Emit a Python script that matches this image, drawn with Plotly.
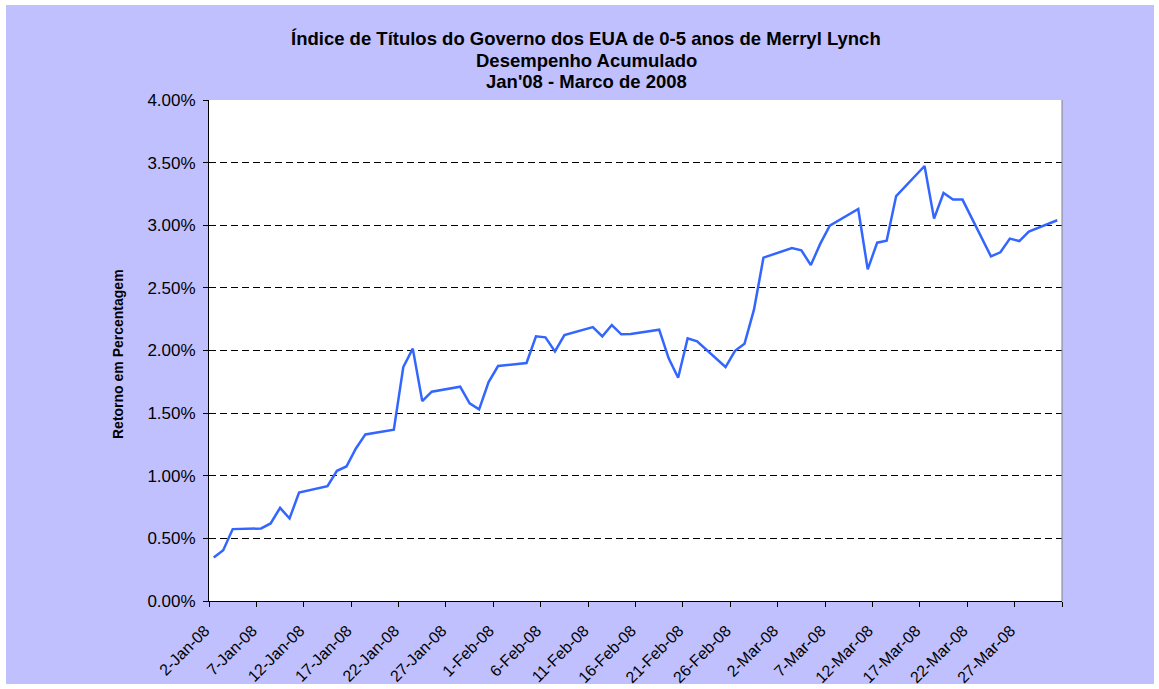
import plotly.graph_objects as go
import pandas as pd

dates = [
    "2008-01-02", "2008-01-03", "2008-01-04", "2008-01-07", "2008-01-08", "2008-01-09",
    "2008-01-10", "2008-01-11", "2008-01-14", "2008-01-15", "2008-01-16", "2008-01-17",
    "2008-01-18", "2008-01-21", "2008-01-22", "2008-01-23", "2008-01-24", "2008-01-25",
    "2008-01-28", "2008-01-29", "2008-01-30", "2008-01-31",
    "2008-02-01", "2008-02-04", "2008-02-05", "2008-02-06", "2008-02-07", "2008-02-08",
    "2008-02-11", "2008-02-12", "2008-02-13", "2008-02-14", "2008-02-15", "2008-02-18",
    "2008-02-19", "2008-02-20", "2008-02-21", "2008-02-22", "2008-02-25", "2008-02-26",
    "2008-02-27", "2008-02-28", "2008-02-29",
    "2008-03-03", "2008-03-04", "2008-03-05", "2008-03-06", "2008-03-07", "2008-03-10",
    "2008-03-11", "2008-03-12", "2008-03-13", "2008-03-14", "2008-03-17", "2008-03-18",
    "2008-03-19", "2008-03-20", "2008-03-21", "2008-03-24", "2008-03-25", "2008-03-26",
    "2008-03-27", "2008-03-28", "2008-03-31",
]

returns_pct = [
    0.347, 0.406, 0.574, 0.579, 0.619, 0.744,
    0.659, 0.866, 0.917, 1.040, 1.074, 1.218,
    1.330, 1.367, 1.868, 2.015, 1.596, 1.671,
    1.711, 1.578, 1.530, 1.748,
    1.876, 1.900, 2.113, 2.105, 1.993, 2.123,
    2.187, 2.113, 2.203, 2.129, 2.131, 2.166,
    1.937, 1.783, 2.097, 2.073, 1.868, 1.998,
    2.054, 2.326, 2.741,
    2.818, 2.800, 2.682, 2.853, 2.997, 3.130,
    2.648, 2.861, 2.877, 3.233, 3.473, 3.053,
    3.257, 3.205, 3.205, 2.752, 2.784, 2.893,
    2.874, 2.949, 3.040,
]

x_tick_labels = [
    "2-Jan-08", "7-Jan-08", "12-Jan-08", "17-Jan-08", "22-Jan-08", "27-Jan-08",
    "1-Feb-08", "6-Feb-08", "11-Feb-08", "16-Feb-08", "21-Feb-08", "26-Feb-08",
    "2-Mar-08", "7-Mar-08", "12-Mar-08", "17-Mar-08", "22-Mar-08", "27-Mar-08",
]
x_axis_end = "1-Apr-08"

y_tick_values = [0.0, 0.5, 1.0, 1.5, 2.0, 2.5, 3.0, 3.5, 4.0]
y_tick_labels = ["0.00%", "0.50%", "1.00%", "1.50%", "2.00%", "2.50%", "3.00%", "3.50%", "4.00%"]

title_lines = [
    "Índice de Títulos do Governo dos EUA de 0-5 anos de Merryl Lynch",
    "Desempenho Acumulado",
    "Jan'08 - Marco de 2008",
]
y_title = "Retorno em Percentagem"

# points sit in the middle of each day (Excel date axis, between tick marks)
x_points = pd.to_datetime(dates) + pd.Timedelta(hours=12)
tick_dates = pd.to_datetime(x_tick_labels + [x_axis_end], format="%d-%b-%y")
tick_text = x_tick_labels + [""]

W, H = 1159, 689
PLOT_L, PLOT_R, PLOT_T, PLOT_B = 209, 1062, 100, 601   # page pixels
pw, ph = PLOT_R - PLOT_L, PLOT_B - PLOT_T

def px_x(p):
    return (p - PLOT_L) / pw

def px_y(p):
    return (PLOT_B - p) / ph

FONT = "Liberation Sans, Arial, sans-serif"

fig = go.Figure()
fig.add_trace(go.Scatter(
    x=x_points, y=returns_pct, mode="lines",
    line=dict(color="#3366FF", width=2.5),
    hoverinfo="x+y", showlegend=False,
))

title_y_centers = [38, 60, 81]
annotations = [
    dict(text="<b>" + t + "</b>", xref="paper", yref="paper",
         x=px_x(586), y=px_y(yc), xanchor="center", yanchor="middle",
         showarrow=False, font=dict(size=18.5, color="black", family=FONT))
    for t, yc in zip(title_lines, title_y_centers)
]
annotations.append(dict(
    text="<b>" + y_title + "</b>", xref="paper", yref="paper",
    x=px_x(118), y=px_y(354), xanchor="center", yanchor="middle",
    textangle=-90, showarrow=False,
    font=dict(size=14, color="black", family=FONT),
))

fig.update_layout(
    width=W, height=H,
    margin=dict(l=PLOT_L, r=W - PLOT_R, t=PLOT_T, b=H - PLOT_B, pad=0, autoexpand=False),
    paper_bgcolor="white",
    plot_bgcolor="white",
    font=dict(family=FONT, color="black"),
    annotations=annotations,
    shapes=[
        dict(type="rect", xref="paper", yref="paper",
             x0=px_x(6), x1=px_x(1154), y0=px_y(684), y1=px_y(5),
             fillcolor="#C0C0FF", line=dict(width=0), layer="below"),
        dict(type="rect", xref="paper", yref="paper",
             x0=0, x1=1, y0=0, y1=1,
             fillcolor="white", line=dict(width=0), layer="below"),
        dict(type="line", xref="paper", yref="paper",
             x0=1, x1=1, y0=0, y1=1,
             line=dict(color="#808080", width=1)),
    ],
)

fig.update_xaxes(
    type="date", automargin=False,
    range=[tick_dates[0], tick_dates[-1]],
    tickvals=tick_dates, ticktext=tick_text,
    tickangle=-45,
    tickfont=dict(size=16),
    ticks="outside", ticklen=5, tickcolor="black",
    ticklabelstandoff=8, ticklabelshift=-4,
    showline=True, linecolor="black", linewidth=1,
    showgrid=False, zeroline=False,
)

fig.update_yaxes(
    automargin=False,
    range=[0, 4],
    tickvals=y_tick_values, ticktext=y_tick_labels,
    tickfont=dict(size=17),
    ticks="outside", ticklen=5, tickcolor="black",
    ticklabelstandoff=4,
    showline=True, linecolor="black", linewidth=1,
    showgrid=True, gridcolor="black", gridwidth=1, griddash="7px,4px",
    zeroline=False,
)

fig.write_html(
    "out.html",
    config={"displayModeBar": False},
    post_script="document.body.style.margin='0';document.body.style.overflow='hidden';",
)
